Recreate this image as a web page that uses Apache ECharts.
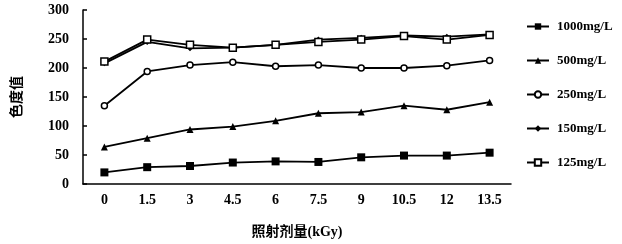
<!DOCTYPE html>
<html>
<head>
<meta charset="utf-8">
<script src="https://cdn.jsdelivr.net/npm/echarts@6/dist/echarts.min.js"></script>
<style>
html,body{margin:0;padding:0;background:#fff;}
#c{width:622px;height:244px;}
</style>
</head>
<body>
<div id="c"></div>
<script>
const categories = ['0','1.5','3','4.5','6','7.5','9','10.5','12','13.5'];
const s1000 = [20, 29, 31, 37, 39, 38, 46, 49, 49, 54];
const s500  = [64, 79, 94, 99, 109, 122, 124, 135, 128, 141];
const s250  = [135, 194, 205, 210, 203, 205, 200, 200, 204, 213];
const s150  = [208, 245, 234, 235, 240, 249, 252, 256, 254, 258];
const s125  = [211, 249, 240, 235, 240, 245, 249, 255, 249, 257];
const yTicks = [0, 50, 100, 150, 200, 250, 300];
const seriesNames = ['1000mg/L','500mg/L','250mg/L','150mg/L','125mg/L'];

const serif = '"Liberation Serif","Times New Roman","Noto Sans CJK SC",serif';
const cjk = '"Liberation Serif","Noto Sans CJK SC",serif';

function mk(name, data, symbol, size, hollow) {
  return {
    name: name, type: 'line', data: data, symbol: symbol, symbolSize: size,
    showSymbol: true,
    lineStyle: {color: '#000', width: 1.8},
    itemStyle: {color: hollow ? '#fff' : '#000', borderColor: '#000', borderWidth: hollow ? 1.5 : 0},
    emphasis: {disabled: true}, animation: false
  };
}

const chart = echarts.init(document.getElementById('c'));
chart.setOption({
  animation: false,
  backgroundColor: '#fff',
  grid: {left: 83, right: 111, top: 10, bottom: 52},
  legend: {
    orient: 'vertical', left: 521, top: 15, itemGap: 21, itemWidth: 22, itemHeight: 8,
    data: seriesNames,
    textStyle: {fontFamily: serif, fontWeight: 'bold', fontSize: 13, color: '#000', padding: [0,0,0,3]}
  },
  xAxis: {
    type: 'category', data: categories, boundaryGap: true,
    name: '照射剂量(kGy)', nameLocation: 'middle', nameGap: 41,
    nameTextStyle: {fontFamily: cjk, fontWeight: 'bold', fontSize: 14, color: '#000'},
    axisLine: {lineStyle: {color: '#000', width: 1.5}},
    axisTick: {inside: true, length: 5, lineStyle: {color: '#000', width: 1.5}},
    axisLabel: {fontFamily: serif, fontWeight: 'bold', fontSize: 14, color: '#000', margin: 9}
  },
  yAxis: {
    type: 'value', min: yTicks[0], max: yTicks[yTicks.length-1], interval: 50,
    name: '色度值', nameLocation: 'middle', nameGap: 59, nameRotate: 90,
    nameTextStyle: {fontFamily: cjk, fontWeight: 'bold', fontSize: 14, color: '#000'},
    axisLine: {show: true, lineStyle: {color: '#000', width: 1.5}},
    axisTick: {show: true, inside: true, length: 4, lineStyle: {color: '#000', width: 1.5}},
    splitLine: {show: false},
    axisLabel: {fontFamily: serif, fontWeight: 'bold', fontSize: 14, color: '#000', margin: 14}
  },
  series: [
    mk(seriesNames[0], s1000, 'rect', 8, false),
    mk(seriesNames[1], s500, 'triangle', 7, false),
    mk(seriesNames[2], s250, 'circle', 6, true),
    mk(seriesNames[3], s150, 'diamond', 6, false),
    mk(seriesNames[4], s125, 'rect', 7, true)
  ]
});
</script>
</body>
</html>
